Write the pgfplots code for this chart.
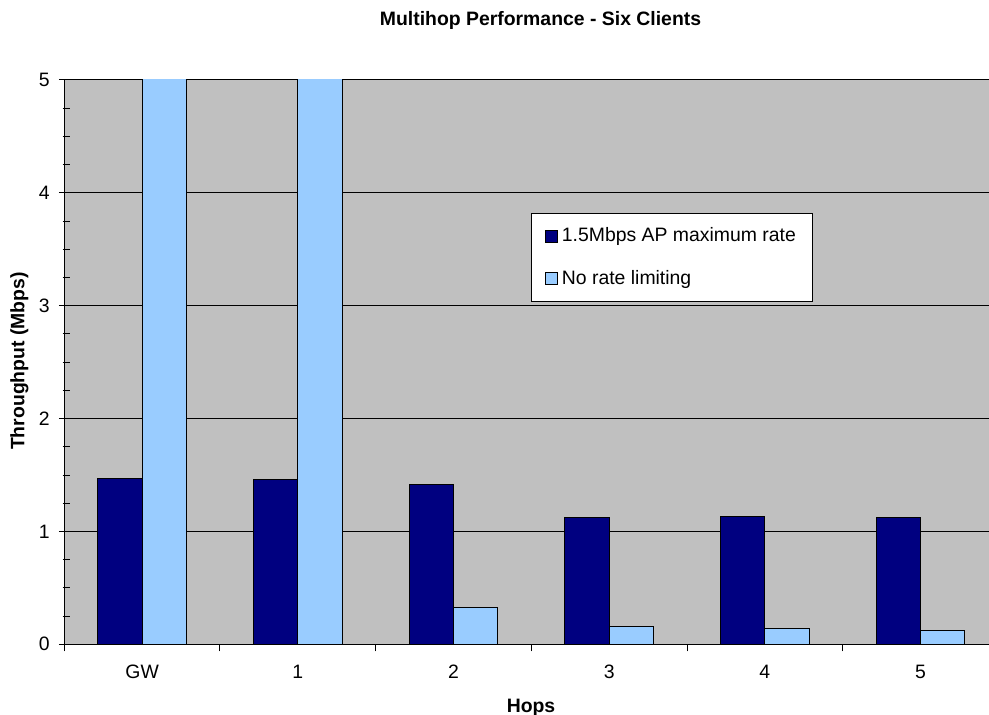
\documentclass[border=0pt]{standalone}
\usepackage{pgfplots}
\pgfplotsset{compat=1.18}
\usepackage{fontspec}
\setmainfont{Liberation Sans}

\definecolor{navybar}{RGB}{0,0,128}
\definecolor{skybar}{RGB}{153,204,255}
\definecolor{plotgray}{RGB}{192,192,192}
\newcommand{\chartfont}{\fontsize{9.7}{11.6}\selectfont}

% Throughput per hop count (Mbps)
\pgfplotstableread{
hop  limited
0    1.470
1    1.460
2    1.415
3    1.125
4    1.135
5    1.120
}\limiteddata
\pgfplotstableread{
hop  unlimited
0    5.90
1    5.80
2    0.325
3    0.160
4    0.140
5    0.125
}\unlimiteddata

\begin{document}
\begin{tikzpicture}
\begin{axis}[
  at={(32.15pt,35.35pt)}, anchor=south west,
  scale only axis, width=462.35pt, height=282.15pt,
  xmin=-0.5, xmax=5.44, ymin=0, ymax=5,
  axis x line*=bottom, axis y line*=left,
  axis line style={black, line width=0.5pt},
  axis background/.style={fill=plotgray},
  ybar, bar width=0.2857,
  xtick={0,1,2,3,4,5},
  xticklabels={GW,1,2,3,4,5},
  major x tick style={draw=none},
  minor xtick={-0.5,0.5,1.5,2.5,3.5,4.5},
  minor x tick style={black, line width=0.5pt, yshift=-1.75pt},
  ytick={0,1,2,3,4,5},
  minor y tick num=3,
  tick align=center,
  major tick length=5.5pt,
  minor tick length=3.5pt,
  major y tick style={black, line width=0.5pt},
  minor y tick style={black, line width=0.5pt, xshift=0.95pt},
  ymajorgrids,
  major grid style={black, line width=0.5pt},
  /pgf/number format/assume math mode=true,
  ticklabel style={font=\chartfont},
  xticklabel style={yshift=-4pt},
  yticklabel style={xshift=-1pt},
  legend style={
    at={(0.5047,0.7648)}, anchor=north west,
    draw=black, fill=white, line width=0.5pt,
    font=\chartfont,
    inner xsep=6.5pt, inner ysep=5.3pt,
    row sep=8.6pt,
    legend cell align=left,
  },
]
\addplot[fill=navybar, draw=black, line width=0.5pt, bar shift=-0.14285,
  legend image code/.code={\draw[fill=navybar, draw=black, line width=0.5pt] (0pt,-3.1pt) rectangle (6.2pt,3.1pt);}]
  table[x=hop, y=limited] {\limiteddata};
\addlegendentry{1.5Mbps AP maximum rate}
\addplot[fill=skybar, draw=black, line width=0.5pt, bar shift=0.14285,
  legend image code/.code={\draw[fill=skybar, draw=black, line width=0.5pt] (0pt,-3.1pt) rectangle (6.2pt,3.1pt);}]
  table[x=hop, y=unlimited] {\unlimiteddata};
\addlegendentry{No rate limiting}
\end{axis}

% titles placed in pixel-like units (1 unit = 0.5pt)
\begin{scope}[x=0.5pt, y=0.5pt]
\node[anchor=base, font=\chartfont\bfseries, inner sep=0pt] at (540.5,689.3) {Multihop Performance - Six Clients};
\node[anchor=center, rotate=90, font=\chartfont\bfseries, inner sep=0pt] at (19.5,354) {Throughput (Mbps)};
\node[anchor=base, font=\chartfont\bfseries, inner sep=0pt] at (531,2.7) {Hops};
\end{scope}

\pgfresetboundingbox
\path (0,0) rectangle (494.5pt,357.5pt);
\end{tikzpicture}
\end{document}
